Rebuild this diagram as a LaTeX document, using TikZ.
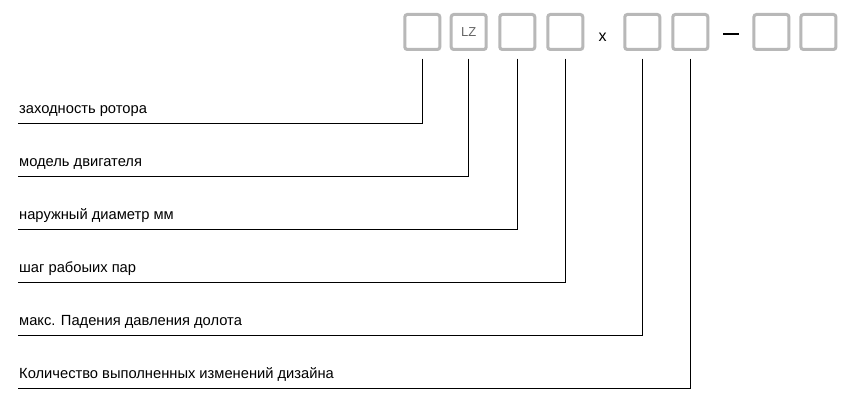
\documentclass[tikz,border=0pt]{standalone}
\usepackage{fontspec}
\setmainfont{Liberation Sans}
\definecolor{boxgray}{HTML}{B8B8B8}
\definecolor{lzgray}{HTML}{666666}
\begin{document}
\begin{tikzpicture}[x=1pt,y=-1pt,
  cell/.style={draw=boxgray,line width=3pt,rounded corners=2.5pt,minimum size=35pt,inner sep=0pt,font=\fontsize{13}{13}\selectfont,text=lzgray},
  lab/.style={anchor=base west,inner sep=0pt,font=\fontsize{14.7}{14.7}\selectfont},
  conn/.style={draw=black,line width=1pt}]
\useasboundingbox (0,0) rectangle (850,403);
\fill[white] (0,0) rectangle (850,403);
\node[cell] (b1) at (422.3,32) {};
\node[cell] (b2) at (468.7,32) {LZ};
\node[cell] (b3) at (517.3,32) {};
\node[cell] (b4) at (565.3,32) {};
\node[font=\fontsize{16}{16}\selectfont,inner sep=0pt,anchor=base] (x) at (602.7,41.3) {x};
\node[cell] (b5) at (642.3,32) {};
\node[cell] (b6) at (690.3,32) {};
\node[inner sep=0pt,minimum width=15.5pt,minimum height=2pt,fill=black] (dash) at (731,34) {};
\node[cell] (b7) at (771.4,32) {};
\node[cell] (b8) at (818.4,32) {};
% connector start points
\foreach \i/\xx in {1/422.3,2/468.7,3/517.3,4/565.3,5/642.3,6/690.3}{
  \coordinate (s\i) at (\xx,58.7);
}
\foreach \i/\yy in {1/123.3,2/176.3,3/229.3,4/282.3,5/335.3,6/388.3}{
  \coordinate (e\i) at (18,\yy);
}
\node[lab] (l1) at (19,113.5) {заходность ротора};
\node[lab] (l2) at (19,166.5) {модель двигателя};
\node[lab] (l3) at (19,219.5) {наружный диаметр мм};
\node[lab] (l4) at (19,272.5) {шаг рабоыих пар};
\node[lab] (l5) at (19,325.5) {макс. Падения давления долота};
\node[lab] (l6) at (19,378.5) {Количество выполненных изменений дизайна};
\foreach \i in {1,...,6}{
  \draw[conn] (s\i) |- (e\i);
}
\end{tikzpicture}
\end{document}
